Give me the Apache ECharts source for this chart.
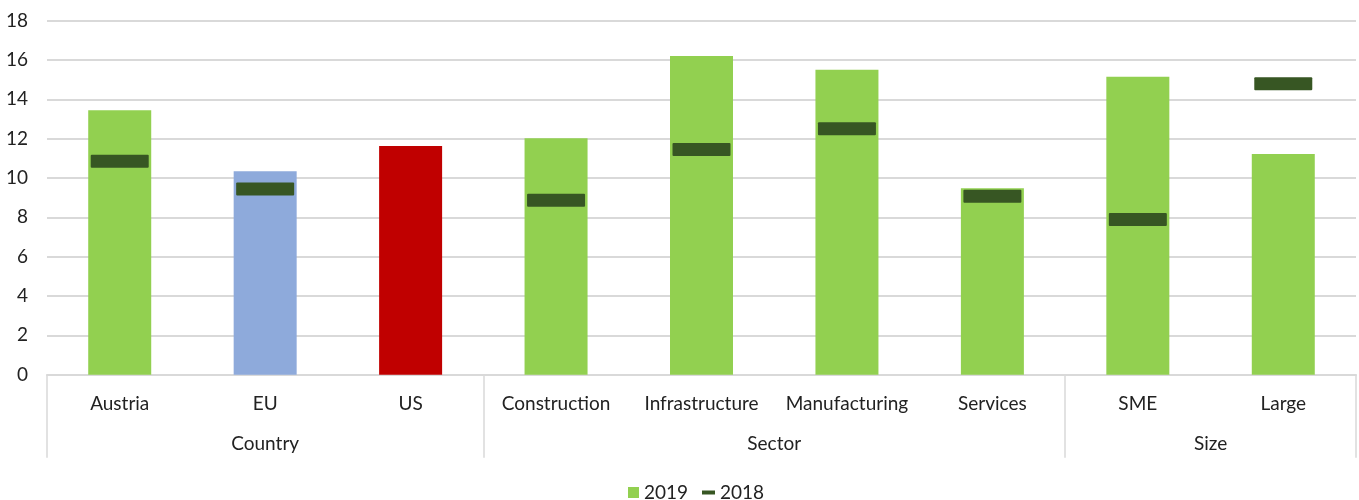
<!DOCTYPE html>
<html>
<head>
<meta charset="utf-8">
<script src="https://cdn.jsdelivr.net/npm/echarts@6/dist/echarts.min.js"></script>
<style>
  html, body { margin: 0; padding: 0; background: #fff; }
  #chart { width: 1359px; height: 500px; }
</style>
</head>
<body>
<div id="chart"></div>
<script>
// 数据
const categories = ["Austria", "EU", "US", "Construction", "Infrastructure", "Manufacturing", "Services", "SME", "Large"]
const values2019 = [13.45, 10.35, 11.63, 12.02, 16.2, 15.5, 9.48, 15.15, 11.22]
const values2018 = [10.85, 9.44, null, 8.87, 11.45, 12.5, 9.08, 7.89, 14.79]
const groupNames = ["Country", "Sector", "Size"]
const groupSizes = [3, 4, 2]
const yTicks = [0, 2, 4, 6, 8, 10, 12, 14, 16, 18]

// 颜色
const barColors = ["#92d050", "#8eaadb", "#c00000", "#92d050", "#92d050", "#92d050", "#92d050", "#92d050", "#92d050"]
const markColor = "#375623"
const gridColor = "#d9d9d9"
const font = "Lato"

// 第二层坐标轴：半格刻度，分组名放在组中间，分隔线放在组边界
let halfSlots = []
for (let i = 0; i <= categories.length * 2; i++) halfSlots.push("")
let labelIdx = {}
let sepIdx = [0]
let start = 0
groupNames.forEach((g, k) => {
  let end = start + groupSizes[k]
  labelIdx[start + end] = g
  sepIdx.push(end * 2)
  start = end
})
halfSlots = halfSlots.map((s, i) => labelIdx[i] || "")

let option = {
  animation: false,
  textStyle: { fontFamily: font },
  grid: {
    left: 47,
    right: 3,
    top: 20.7,
    bottom: 125.3
  },
  legend: [
    {
      data: [{ name: "2019", icon: "rect" }],
      left: 623,
      top: 478,
      itemWidth: 11,
      itemHeight: 11,
      itemGap: 6,
      textStyle: { fontSize: 19, color: "#222", fontFamily: font }
    },
    {
      data: [{ name: "2018", icon: "rect" }],
      left: 697,
      top: 478,
      itemWidth: 13,
      itemHeight: 4,
      itemGap: 6,
      textStyle: { fontSize: 19, color: "#222", fontFamily: font }
    }
  ],
  xAxis: [
    {
      type: "category",
      data: categories,
      axisLine: { lineStyle: { color: gridColor, width: 2 } },
      axisTick: { show: false },
      axisLabel: {
        interval: 0,
        margin: 20,
        fontSize: 19,
        color: "#222"
      }
    },
    {
      type: "category",
      data: halfSlots,
      boundaryGap: false,
      position: "bottom",
      axisLine: { show: false },
      axisTick: {
        show: true,
        length: 83,
        interval: (idx) => sepIdx.indexOf(idx) >= 0,
        lineStyle: { color: gridColor, width: 1.5 }
      },
      axisLabel: {
        interval: (idx) => !!labelIdx[idx],
        margin: 60,
        fontSize: 19,
        color: "#222"
      }
    }
  ],
  yAxis: {
    type: "value",
    min: yTicks[0],
    max: yTicks[yTicks.length - 1],
    interval: 2,
    axisLine: { show: false },
    axisTick: { show: false },
    splitLine: { lineStyle: { color: gridColor, width: 2 } },
    axisLabel: {
      margin: 19,
      fontSize: 19,
      color: "#222"
    }
  },
  series: [
    {
      name: "2019",
      type: "bar",
      barWidth: 63,
      data: values2019.map((v, i) => ({ value: v, itemStyle: { color: barColors[i] } })),
      itemStyle: { color: "#92d050" }
    },
    {
      name: "2018",
      type: "scatter",
      symbol: "path://M1,0H57A1,1 0 0 1 58,1V12A1,1 0 0 1 57,13H1A1,1 0 0 1 0,12V1A1,1 0 0 1 1,0Z",
      symbolSize: [58, 13],
      data: values2018.map(v => (v === null ? "-" : v)),
      itemStyle: { color: markColor, opacity: 1 },
      z: 5
    }
  ]
}

let chartEl = echarts.init(document.getElementById("chart"))
chartEl.setOption(option)
</script>
</body>
</html>
